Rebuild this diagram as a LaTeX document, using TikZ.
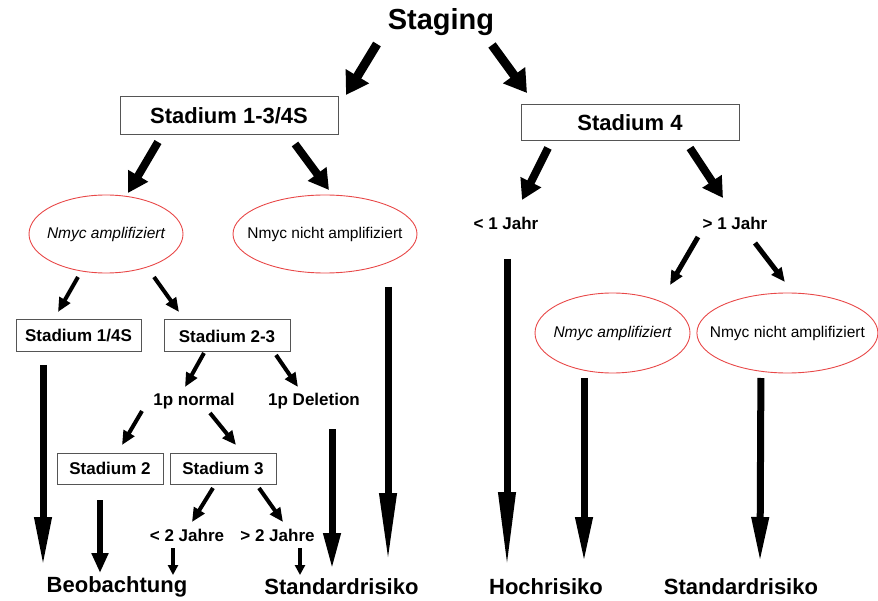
\documentclass[tikz,border=0pt]{standalone}
\usepackage{fontspec}
\setmainfont{Liberation Sans}
\definecolor{oval-red}{RGB}{232,72,72}
\definecolor{box-gray}{RGB}{85,85,85}
\usetikzlibrary{arrows.meta}
\usetikzlibrary{calc}
\usetikzlibrary{positioning}
\usetikzlibrary{shapes.geometric}

\begin{document}
\begin{tikzpicture}[%
            x=1pt, y=-1pt,
            stage/.style={%
              draw=box-gray,
              line width=1pt,
              fill=white,
              inner sep=0pt,
              font=\bfseries\fontsize{17}{20}\selectfont,
            },
            oval/.style={%
              draw=oval-red,
              ellipse,
              line width=0.9pt,
              inner sep=0pt,
              minimum width=154pt,
              minimum height=78pt,
              font=\fontsize{15.5}{18}\selectfont,
            },
            lbl/.style={%
              inner sep=0pt,
              font=\bfseries\fontsize{17}{20}\selectfont,
            },
            result/.style={%
              inner sep=0pt,
              font=\bfseries\fontsize{22}{26}\selectfont,
            },
            huge arr/.style={line width=9pt, -{Triangle[width=26pt,length=22pt]}},
            big arr/.style={line width=8pt, -{Triangle[width=22pt,length=20pt]}},
            mid arr/.style={line width=4pt, -{Triangle[width=12pt,length=14pt]}},
            small arr/.style={line width=3.5pt, -{Triangle[width=10pt,length=10pt]}},
            long arr/.style={line width=7pt, -{Triangle[width=16pt,length=#1]}},
          ]
            \useasboundingbox (0,0) rectangle (878,601);

            % top level
            \node [%
              inner sep=0pt,
              font=\bfseries\fontsize{29}{34}\selectfont,
            ] (staging) at (441,22) {Staging};
            \node [%
              stage,
              minimum width=218pt,
              minimum height=38pt,
              font=\bfseries\fontsize{22}{26}\selectfont,
            ] (s13) at (229,116) {Stadium 1-3/4S};
            \node [%
              stage,
              minimum width=218pt,
              minimum height=36pt,
              font=\bfseries\fontsize{22}{26}\selectfont,
            ] (s4) at (630,123) {Stadium 4};

            % Stadium 1-3/4S branch
            \node [oval] (n1) at (106,234) {\makebox[0pt]{\itshape Nmyc amplifiziert}};
            \node [oval, minimum width=184pt] (n2) at (325,234) {\makebox[0pt]{Nmyc nicht amplifiziert}};
            \node [stage, minimum width=125pt, minimum height=32pt] (s14) at (78.5,336) {Stadium 1/4S};
            \node [%
              stage,
              minimum width=126pt,
              minimum height=32pt,
              right=22pt of s14,
            ] (s23) {Stadium 2-3};
            \node [lbl] (pn) at (194,401) {1p normal};
            \node [lbl] (pd) at (314,401) {1p Deletion};
            \node [stage, minimum width=106pt, minimum height=31pt] (s2) at (110,468.5) {Stadium 2};
            \node [%
              stage,
              minimum width=106pt,
              minimum height=31pt,
              right=6pt of s2,
            ] (s3) {Stadium 3};
            \node [lbl] (lt2) at (187,535) {< 2 Jahre};
            \node [lbl] (gt2) at (277.5,535) {> 2 Jahre};

            % Stadium 4 branch
            \node [lbl] (lt1) at (506,223) {< 1 Jahr};
            \node [lbl] (gt1) at (735,223) {> 1 Jahr};
            \node [oval, minimum width=155pt, minimum height=80pt] (n3) at (612.5,333) {\makebox[0pt]{\itshape Nmyc amplifiziert}};
            \node [%
              oval,
              minimum width=181pt,
              minimum height=80pt,
              right=6pt of n3,
            ] (n4) {\makebox[0pt]{Nmyc nicht amplifiziert}};

            % results
            \node [result] (beob) at (117,587) {Beobachtung};
            \node [result] (std1) at (341.5,587) {Standardrisiko};
            \node [result] (hoch) at (546,587) {Hochrisiko};
            \node [result] (std2) at (741,587) {Standardrisiko};

            % arrows
            \draw [huge arr] ($(staging)+(-64,22)$) -- ($(s13)+(117,-21)$);
            \draw [huge arr] ($(staging)+(51,23)$) -- ($(s4)+(-103,-30)$);
            \draw [big arr] ($(s13)+(-71,26)$) -- ($(n1)+(22,-41)$);
            \draw [big arr] ($(s13)+(66,28)$) -- ($(n2)+(4,-44)$);
            \draw [big arr] ($(s4)+(-82,25)$) -- ($(lt1)+(16,-23)$);
            \draw [big arr] ($(s4)+(60,25)$) -- ($(gt1)+(-12,-25)$);

            \draw [mid arr] ($(n1)+(-28,43)$) -- ($(s14)+(-20.5,-24)$);
            \draw [mid arr] ($(n1)+(48,43)$) -- ($(s23)+(-48,-24)$);
            \draw [mid arr] ($(s23)+(-23,17)$) -- ($(pn)+(-9,-14)$);
            \draw [mid arr] ($(s23)+(49,19)$) -- ($(pd)+(-16,-14)$);
            \draw [mid arr] ($(pn)+(-52,10)$) -- ($(s2)+(12,-23.5)$);
            \draw [mid arr] ($(pn)+(16,12)$) -- ($(s3)+(13,-23.5)$);
            \draw [mid arr] ($(s3)+(-10,19.5)$) -- ($(lt2)+(5,-13)$);
            \draw [mid arr] ($(s3)+(36,19.5)$) -- ($(gt2)+(5.5,-13)$);
            \draw [mid arr, line width=5pt] ($(gt1)+(-37,14)$) -- ($(n3)+(57.5,-48)$);
            \draw [mid arr, line width=5pt] ($(gt1)+(20,20)$) -- ($(n4)+(-2.5,-51)$);

            \draw [long arr=50pt] ($(s14)+(-35.5,29)$) -- ($(beob)+(-74,-20)$);
            \draw [long arr=20pt, line width=6pt] ($(s2)+(-10,31.5)$) -- ($(beob)+(-17,-14)$);
            \draw [small arr] ($(lt2)+(-14,13)$) -- ($(beob)+(56,-12)$);
            \draw [small arr] ($(gt2)+(22.5,13)$) -- ($(std1)+(-41.5,-12)$);
            \draw [long arr=37pt] ($(pd)+(18,28)$) -- ($(std1)+(-9.5,-17)$);
            \draw [long arr=70pt] ($(n2)+(63,53)$) -- ($(std1)+(46.5,-24)$);
            \draw [long arr=77pt] ($(lt1)+(1,36)$) -- ($(hoch)+(-39,-18)$);
            \draw [long arr=46pt] ($(n3)+(-28.5,45)$) -- ($(hoch)+(38,-24)$);
            \draw [long arr=46pt] ($(n4)+(-26.5,45)$) -- ($(std2)+(19,-24)$);
          \end{tikzpicture}
\end{document}
